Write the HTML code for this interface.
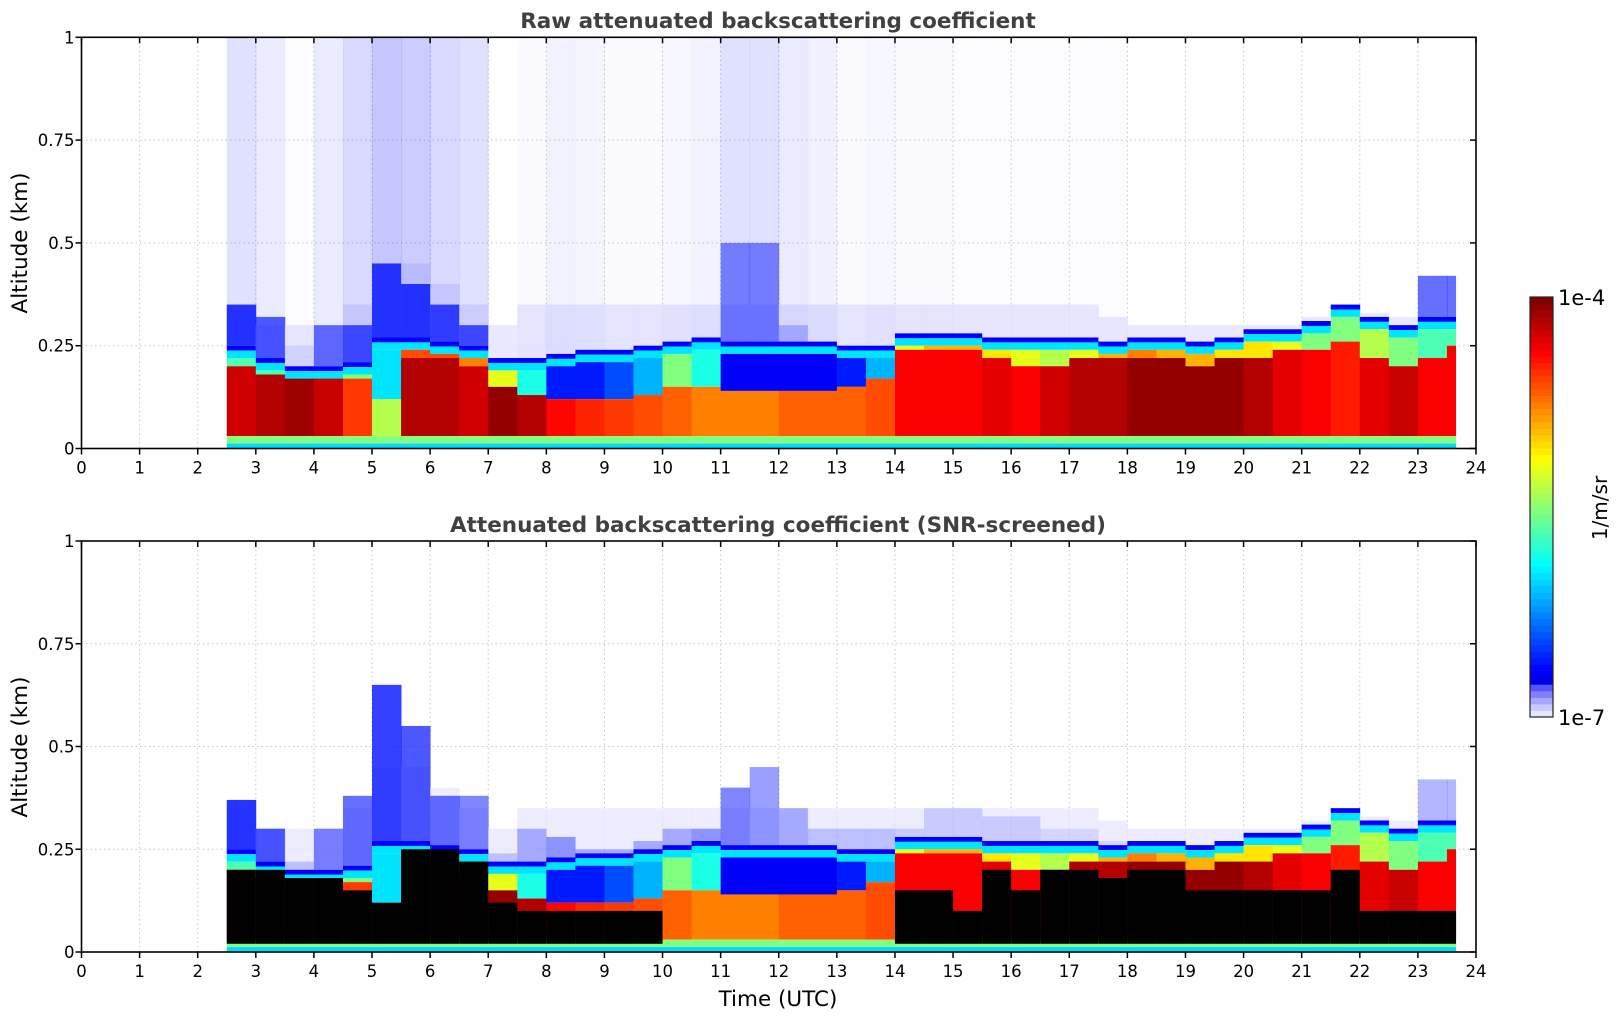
<!DOCTYPE html>
<html><head><meta charset="utf-8"><style>
html,body{margin:0;padding:0;background:#fff;}
svg{display:block;font-family:"DejaVu Sans","Liberation Sans",sans-serif;}
</style></head><body>
<svg id="chart" width="1621" height="1020" viewBox="0 0 1621 1020">
<text x="778" y="28" text-anchor="middle" font-size="21.5" font-weight="bold" fill="#404040">Raw attenuated backscattering coefficient</text>
<text x="778" y="532" text-anchor="middle" font-size="21.5" font-weight="bold" fill="#404040">Attenuated backscattering coefficient (SNR-screened)</text>
<text transform="translate(27,243) rotate(-90)" text-anchor="middle" font-size="21.5" fill="#000">Altitude (km)</text>
<text transform="translate(27,747) rotate(-90)" text-anchor="middle" font-size="21.5" fill="#000">Altitude (km)</text>
<text x="778" y="1006" text-anchor="middle" font-size="21.5" fill="#000">Time (UTC)</text>
<g id="top"></g>
<g id="bot"></g>
<g id="cbar"></g>
<text x="1558" y="305" font-size="21" fill="#000">1e-4</text>
<text x="1558" y="725" font-size="21" fill="#000">1e-7</text>
<text transform="translate(1607,508) rotate(-90)" text-anchor="middle" font-size="20" fill="#000">1/m/sr</text>
</svg>
<script>
const xTicks=[0,1,2,3,4,5,6,7,8,9,10,11,12,13,14,15,16,17,18,19,20,21,22,23,24];
const yTicks=[0,0.25,0.5,0.75,1];
const yTickLabels=["0","0.25","0.5","0.75","1"];
const binStart=[2.5,3,3.5,4,4.5,5,5.5,6,6.5,7,7.5,8,8.5,9,9.5,10,10.5,11,11.5,12,12.5,13,13.5,14,14.5,15,15.5,16,16.5,17,17.5,18,18.5,19,19.5,20,20.5,21,21.5,22,22.5,23,23.5];
const binEnd=[3,3.5,4,4.5,5,5.5,6,6.5,7,7.5,8,8.5,9,9.5,10,10.5,11,11.5,12,12.5,13,13.5,14,14.5,15,15.5,16,16.5,17,17.5,18,18.5,19,19.5,20,20.5,21,21.5,22,22.5,23,23.5,23.65];
const layerTop=[0.25,0.22,0.20,0.20,0.21,0.27,0.27,0.26,0.25,0.22,0.22,0.23,0.24,0.24,0.25,0.26,0.27,0.26,0.26,0.26,0.26,0.25,0.25,0.28,0.28,0.28,0.27,0.27,0.27,0.27,0.26,0.27,0.27,0.26,0.27,0.29,0.29,0.31,0.35,0.32,0.30,0.32,0.32];
const coreTop=[0.20,0.18,0.17,0.17,0.17,0.12,0.22,0.22,0.20,0.15,0.13,0.12,0.12,0.12,0.13,0.15,0.15,0.14,0.14,0.14,0.14,0.15,0.17,0.24,0.24,0.24,0.22,0.20,0.20,0.22,0.22,0.22,0.22,0.20,0.22,0.22,0.24,0.24,0.26,0.22,0.20,0.22,0.25];
const coreVal=[0.92,0.95,0.97,0.93,0.82,0.55,0.95,0.95,0.92,0.98,0.95,0.87,0.84,0.82,0.8,0.78,0.75,0.75,0.75,0.78,0.78,0.78,0.8,0.88,0.88,0.88,0.9,0.88,0.92,0.95,0.95,0.98,0.98,0.98,0.98,0.95,0.9,0.88,0.85,0.9,0.93,0.88,0.88];
const midVal=[0.45,0.45,0.40,0.50,0.50,0.35,0.80,0.80,0.75,0.60,0.40,0.15,0.15,0.20,0.30,0.50,0.40,0.12,0.12,0.12,0.12,0.15,0.30,0.60,0.70,0.70,0.65,0.60,0.55,0.60,0.70,0.75,0.70,0.70,0.65,0.65,0.60,0.50,0.50,0.55,0.50,0.45,0.45];
const noiseTop=[0.35,0.32,0.25,0.30,0.30,0.45,0.40,0.35,0.30,0.24,0.22,0.23,0.24,0.24,0.25,0.26,0.27,0.50,0.50,0.30,0.26,0.25,0.25,0.28,0.28,0.28,0.27,0.27,0.27,0.27,0.26,0.27,0.27,0.26,0.27,0.29,0.29,0.31,0.35,0.32,0.30,0.42,0.42];
const noiseAlpha=[0.85,0.7,0.1,0.6,0.75,0.85,0.85,0.8,0.75,0,0,0,0,0,0,0,0,0.55,0.55,0.3,0,0,0,0,0,0,0,0,0,0,0,0,0,0,0,0,0,0,0,0,0,0.6,0.6];
const sparseAlpha=[0.12,0.08,0.01,0.08,0.15,0.22,0.2,0.15,0.12,0.0,0.02,0.05,0.04,0.02,0.02,0.03,0.05,0.12,0.12,0.08,0.06,0.02,0.03,0.02,0.02,0.01,0.01,0.01,0.01,0.01,0.01,0,0,0,0,0,0,0,0,0,0,0,0];
const lavTop=[0.35,0.3,0.3,0.3,0.35,0.45,0.45,0.4,0.35,0.3,0.35,0.35,0.35,0.35,0.35,0.35,0.35,0.35,0.35,0.35,0.35,0.35,0.35,0.35,0.35,0.35,0.35,0.35,0.35,0.35,0.32,0.3,0.3,0.3,0.3,0.3,0.3,0.32,0.35,0.33,0.32,0.32,0.32];
const blackTop=[0.20,0.20,0.18,0.18,0.15,0.12,0.25,0.25,0.22,0.12,0.10,0.10,0.10,0.10,0.10,0,0,0,0,0,0,0,0,0.15,0.15,0.10,0.20,0.15,0.20,0.20,0.18,0.20,0.20,0.15,0.15,0.15,0.15,0.15,0.20,0.10,0.10,0.10,0.10];
const screenTop=[0.37,0.30,0.22,0.30,0.38,0.65,0.55,0.38,0.38,0.24,0.30,0.28,0.25,0.25,0.27,0.30,0.30,0.40,0.45,0.35,0.30,0.30,0.30,0.30,0.35,0.35,0.33,0.33,0.30,0.30,0.27,0.27,0.27,0.26,0.27,0.29,0.29,0.31,0.35,0.32,0.30,0.42,0.42];
const screenAlpha=[0.85,0.7,0.2,0.5,0.6,0.8,0.7,0.6,0.5,0.2,0.3,0.4,0.3,0.3,0.3,0.3,0.4,0.5,0.4,0.3,0.2,0.2,0.2,0.15,0.15,0.15,0.15,0.15,0.1,0.1,0.1,0.1,0.1,0.1,0.1,0.1,0.1,0.1,0.1,0.1,0.1,0.3,0.3];

const NS="http://www.w3.org/2000/svg";
const X0=81.5,X1=1476;
function xs(t){return X0+(X1-X0)*t/24;}
function jet(v){
  function c(x){return Math.max(0,Math.min(1,x));}
  const r=c(1.5-Math.abs(4*v-3)),g=c(1.5-Math.abs(4*v-2)),b=c(1.5-Math.abs(4*v-1));
  return "rgb("+Math.round(r*255)+","+Math.round(g*255)+","+Math.round(b*255)+")";
}
function mk(tag,attrs,parent){const e=document.createElementNS(NS,tag);for(const k in attrs)e.setAttribute(k,attrs[k]);parent.appendChild(e);return e;}

function panel(gid,yT,yB,screened){
  const g=document.getElementById(gid);
  const ys=km=>yB-(yB-yT)*km;
  xTicks.forEach(t=>{if(t>0&&t<24){const l=mk("line",{x1:xs(t),x2:xs(t),y1:yT,y2:yB,stroke:"#c8c8c8","stroke-dasharray":"1.5,3","stroke-width":1},g);
    
    }});
  yTicks.forEach(v=>{if(v>0&&v<1){const l=mk("line",{x1:X0,x2:X1,y1:ys(v),y2:ys(v),stroke:"#c8c8c8","stroke-dasharray":"1.5,3","stroke-width":1},g);
    
    }});
  function cell(i,k0,k1,fill,op){
    if(k1<=k0||op<=0)return;
    const r=mk("rect",{x:xs(binStart[i]),y:ys(k1),width:xs(binEnd[i])-xs(binStart[i])+0.4,height:ys(k0)-ys(k1),fill:fill,"fill-opacity":op},g);
    
    
  }
  for(let i=0;i<binStart.length;i++){
    const lt=layerTop[i],ct=coreTop[i];
    if(!screened){
      cell(i,lt,lavTop[i],"#e4e4ff",0.8);
      cell(i,Math.max(lt,noiseTop[i]),1,"#0000ff",sparseAlpha[i]);
      cell(i,lt,noiseTop[i],"#0010ff",noiseAlpha[i]);
    }else{
      cell(i,lt,lavTop[i],"#e6e6ff",0.7);
      cell(i,lt,screenTop[i],"#0010ff",screenAlpha[i]);
    }
    cell(i,lt-0.012,lt,"#0000ff",1);
    cell(i,lt-0.03,lt-0.012,jet(0.35),1);
    cell(i,ct,lt-0.03,jet(midVal[i]),1);
    cell(i,0.03,ct,jet(coreVal[i]),1);
    cell(i,0.012,0.03,jet(0.5),1);
    cell(i,0,0.012,jet(0.34),1);
    if(screened&&blackTop[i]>0){cell(i,0.02,blackTop[i],"#000000",1);}
  }
  const fr=mk("rect",{x:X0,y:yT,width:X1-X0,height:yB-yT,fill:"none",stroke:"#000","stroke-width":1.6},g);
  
  
  xTicks.forEach(t=>{
    mk("line",{x1:xs(t),x2:xs(t),y1:yB,y2:yB+6,stroke:"#000","stroke-width":1.5},g);
    mk("line",{x1:xs(t),x2:xs(t),y1:yT,y2:yT+6,stroke:"#000","stroke-width":1.5},g);
    const tx=mk("text",{x:xs(t),y:yB+25,"text-anchor":"middle","font-size":16.5,fill:"#000"},g);
    tx.textContent=String(t);
    
    
  });
  yTicks.forEach((v,j)=>{
    mk("line",{x1:X0-6,x2:X0,y1:ys(v),y2:ys(v),stroke:"#000","stroke-width":1.5},g);
    mk("line",{x1:X1-6,x2:X1,y1:ys(v),y2:ys(v),stroke:"#000","stroke-width":1.5},g);
    const tx=mk("text",{x:X0-7,y:ys(v)+6,"text-anchor":"end","font-size":16.5,fill:"#000"},g);
    tx.textContent=yTickLabels[j];
    
    
  });
}
panel("top",37.3,448.5,false);
panel("bot",541,952,true);

(function(){
  const g=document.getElementById("cbar");
  const cx=1530,cw=23,cT=297,cB=717,n=64;
  const lav=["#e6e6ff","#c8c8ff","#a6a6ff","#7f7fff","#5555ff"];
  for(let k=0;k<n;k++){
    let col = k<lav.length ? lav[k] : jet(0.1+0.9*(k-lav.length)/(n-1-lav.length));
    const h=(cB-cT)/n;
    const r=mk("rect",{x:cx,y:cB-(k+1)*h,width:cw,height:h+0.5,fill:col},g);
    
    
  }
  mk("rect",{x:cx,y:cT,width:cw,height:cB-cT,fill:"none",stroke:"#222","stroke-width":1.2},g);
})();
</script>
</body></html>
